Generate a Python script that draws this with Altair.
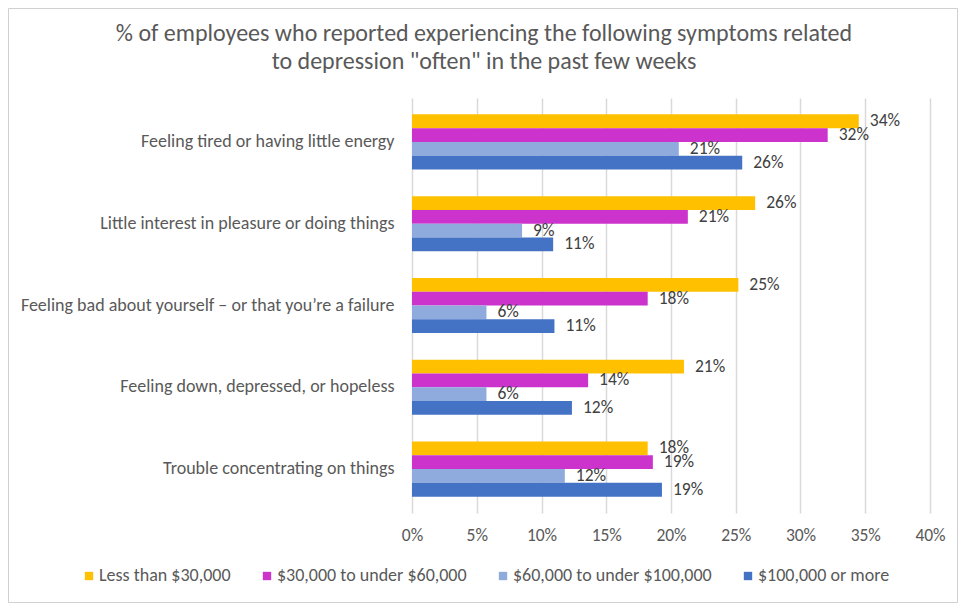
import altair as alt
import pandas as pd

categories = [
    "Feeling tired or having little energy",
    "Little interest in pleasure or doing things",
    "Feeling bad about yourself \u2013 or that you\u2019re a failure",
    "Feeling down, depressed, or hopeless",
    "Trouble concentrating on things",
]
series = ["Less than $30,000", "$30,000 to under $60,000", "$60,000 to under $100,000", "$100,000 or more"]
colors = ["#FFC000", "#CC33CC", "#8FAADC", "#4472C4"]

v_less30 = [0.345, 0.265, 0.252, 0.210, 0.182]
v_30_60 = [0.321, 0.213, 0.182, 0.136, 0.186]
v_60_100 = [0.206, 0.085, 0.0575, 0.0575, 0.118]
v_100 = [0.255, 0.109, 0.110, 0.1235, 0.193]

l_less30 = ["34%", "26%", "25%", "21%", "18%"]
l_30_60 = ["32%", "21%", "18%", "14%", "19%"]
l_60_100 = ["21%", "9%", "6%", "6%", "12%"]
l_100 = ["26%", "11%", "11%", "12%", "19%"]

x_ticks = [0, 0.05, 0.10, 0.15, 0.20, 0.25, 0.30, 0.35, 0.40]

title_lines = [
    "% of employees who reported experiencing the following symptoms related",
    "to depression \"often\" in the past few weeks",
]

rows = []
for s, vals, labs in zip(series, [v_less30, v_30_60, v_60_100, v_100], [l_less30, l_30_60, l_60_100, l_100]):
    for c, v, l in zip(categories, vals, labs):
        rows.append({"cat": c, "series": s, "value": v, "label": l})
df = pd.DataFrame(rows)

FONT = "Carlito, Calibri, 'Open Sans', sans-serif"
GREY = "#595959"

W, H = 518, 415
PL, PT, PR, PB = 404, 90, 28, 90

y_enc = alt.Y(
    "cat:N", sort=categories,
    scale=alt.Scale(paddingInner=0.325),
    axis=alt.Axis(title=None, labelFontSize=18, labelColor=GREY, labelFont=FONT,
                  labelPadding=18, ticks=False, domain=False, labelLimit=500),
)
yoff_enc = alt.YOffset("series:N", sort=series, scale=alt.Scale(paddingInner=0, paddingOuter=0))
x_enc = alt.X(
    "value:Q",
    scale=alt.Scale(domain=[0, 0.4], nice=False),
    axis=alt.Axis(title=None, values=x_ticks, format=".0%", labelFontSize=17.5, labelColor=GREY,
                  labelFont=FONT, ticks=False, domain=False, grid=True, gridColor="#D9D9D9",
                  gridWidth=1.5, labelPadding=13, labelFlush=False, labelOverlap=False),
)

bars = alt.Chart(df).mark_bar().encode(
    y=y_enc, yOffset=yoff_enc, x=x_enc,
    color=alt.Color(
        "series:N", sort=series,
        scale=alt.Scale(domain=series, range=colors),
        legend=alt.Legend(
            title=None, orient="none", direction="horizontal", columns=4,
            legendX=-332, legendY=469, symbolType="square", symbolSize=70,
            symbolStrokeWidth=0, labelFontSize=18, labelColor=GREY, labelFont=FONT,
            columnPadding=27, labelOffset=1, labelLimit=300,
        ),
    ),
)

texts = alt.Chart(df).mark_text(align="left", baseline="middle", dx=11, fontSize=17.5,
                                color="#404040", font=FONT).encode(
    y=alt.Y("cat:N", sort=categories), yOffset=alt.YOffset("series:N", sort=series),
    x=alt.X("value:Q"), text="label:N",
)

border = alt.Chart(alt.Data(values=[{"k": 1}])).mark_rect(
    filled=False, stroke="#D0D0D0", strokeWidth=1
).encode(
    x=alt.value(-PL + 0.5), x2=alt.value(W + PR - 0.5),
    y=alt.value(-PT + 0.5), y2=alt.value(H + PB - 0.5),
)

chart = alt.layer(bars, texts, border).properties(
    width=W, height=H,
    padding={"left": PL, "top": PT, "right": PR, "bottom": PB},
    autosize=alt.AutoSizeParams(type="none"),
    title=alt.TitleParams(
        text=title_lines, fontSize=24, font=FONT, color=GREY, fontWeight="normal",
        anchor="middle", frame="group", dx=-187, offset=-66, lineHeight=28,
    ),
).configure_view(stroke=None)

chart.save("out.html", embed_options={"renderer": "svg", "actions": False})
